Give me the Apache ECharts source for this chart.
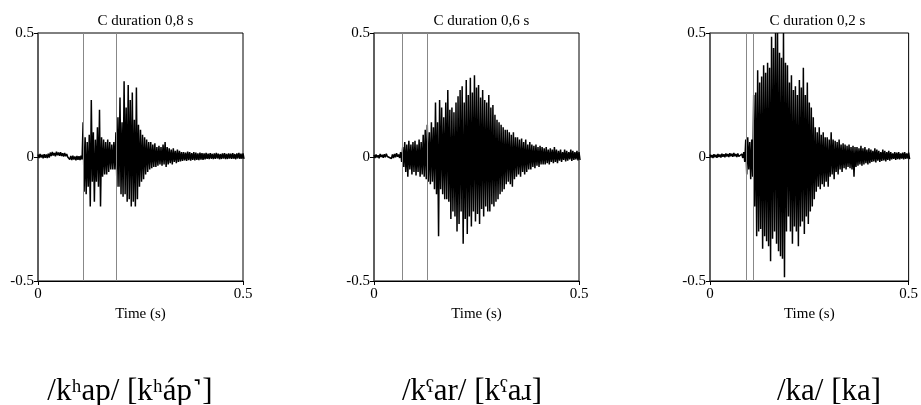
<!DOCTYPE html>
<html>
<head>
<meta charset="utf-8">
<script src="https://cdn.jsdelivr.net/npm/echarts@6/dist/echarts.min.js"></script>
<style>
  html, body { margin: 0; padding: 0; background: #fff; }
  #chart { width: 921px; height: 405px; }
</style>
</head>
<body>
<div id="chart"></div>
<script>
// ---------- data ----------
const sampleStep = 0.005; // seconds between envelope samples
const panelTitles = ['C duration 0,8 s', 'C duration 0,6 s', 'C duration 0,2 s'];
const panelWords = ['/kʰap/ [kʰáp˺]', '/kˤar/ [kˤaɹ]', '/ka/ [ka]'];
const xTicks = [0, 0.5];
const yTicks = [-0.5, 0, 0.5];

// segment boundaries (s)
const bounds1 = [0.11, 0.189];
const bounds2 = [0.0716, 0.126];
const bounds3 = [0.0908, 0.111];

// waveform envelopes: upper (hi) and lower (lo) amplitude per sample
const hi1 = [0.01,0.012,0.009,0.011,0.01,0.013,
  0.018,0.02,0.016,0.021,0.018,0.019,0.015,0.016,0.012,
  0.006,0.004,0.005,0.002,0.004,0.003,0.005,
  0.14,0.08,0.06,0.09,0.23,0.1,0.07,0.12,0.19,0.08,0.07,0.06,0.07,0.06,0.05,0.06,
  0.1,0.16,0.24,0.14,0.305,0.2,0.29,0.23,0.26,0.15,0.28,0.13,0.11,
  0.09,0.08,0.07,0.06,0.06,0.05,0.055,0.04,0.045,0.04,0.05,0.06,0.04,0.035,0.03,0.035,0.025,0.03,0.025,0.02,
  0.02,0.018,0.022,0.02,0.016,0.02,0.018,0.015,0.018,0.016,
  0.015,0.017,0.014,0.016,0.013,0.015,0.017,0.014,0.012,0.015,0.016,0.013,0.015,0.014,0.016,0.012,0.015,0.017,0.014,0.015];
const lo1 = [-0.004,-0.002,-0.005,-0.003,-0.004,-0.002,
  0.004,0.006,0.003,0.007,0.005,0.004,0.002,0.003,0.0,
  -0.01,-0.012,-0.01,-0.013,-0.011,-0.012,-0.01,
  -0.14,-0.15,-0.12,-0.2,-0.1,-0.18,-0.1,-0.12,-0.2,-0.08,-0.07,-0.07,-0.06,-0.05,-0.05,-0.05,
  -0.12,-0.12,-0.15,-0.16,-0.15,-0.18,-0.17,-0.2,-0.18,-0.2,-0.17,-0.12,-0.1,
  -0.09,-0.07,-0.06,-0.05,-0.045,-0.04,-0.04,-0.035,-0.03,-0.035,-0.03,-0.04,-0.03,-0.025,-0.03,-0.02,-0.025,-0.02,-0.018,-0.016,
  -0.014,-0.016,-0.013,-0.015,-0.012,-0.014,-0.012,-0.013,-0.011,-0.012,
  -0.01,-0.008,-0.009,-0.007,-0.009,-0.008,-0.006,-0.009,-0.008,-0.007,-0.009,-0.008,-0.006,-0.008,-0.007,-0.009,-0.006,-0.008,-0.007,-0.008];

const hi2 = [0.008,0.01,0.007,0.012,0.009,0.011,0.013,0.008,0.006,0.01,0.012,0.015,0.01,0.02,
  0.04,0.06,0.05,0.065,0.05,0.06,0.065,0.05,0.07,0.06,0.09,0.11,0.13,0.1,0.14,0.12,
  0.22,0.14,0.23,0.2,0.16,0.22,0.27,0.19,0.2,0.18,0.22,0.245,0.27,0.285,0.22,0.31,0.25,0.32,0.26,0.33,
  0.28,0.29,0.24,0.27,0.23,0.22,0.25,0.2,0.21,0.17,0.15,0.14,0.13,0.12,0.11,0.11,0.1,0.09,0.1,0.08,
  0.08,0.07,0.075,0.06,0.07,0.05,0.06,0.05,0.045,0.05,0.04,0.045,0.04,0.035,0.04,0.03,0.035,0.03,0.04,0.03,
  0.025,0.03,0.02,0.03,0.025,0.02,0.03,0.025,0.02,0.025,0.02];
const lo2 = [-0.004,-0.002,-0.005,0.0,-0.003,-0.001,0.002,-0.002,-0.006,-0.004,-0.001,0.001,-0.004,-0.02,
  -0.04,-0.06,-0.08,-0.05,-0.07,-0.06,-0.075,-0.06,-0.08,-0.07,-0.08,-0.09,-0.1,-0.11,-0.1,-0.13,
  -0.15,-0.32,-0.13,-0.15,-0.17,-0.17,-0.18,-0.25,-0.22,-0.24,-0.3,-0.27,-0.22,-0.35,-0.25,-0.31,-0.24,-0.28,-0.22,-0.26,
  -0.23,-0.27,-0.21,-0.24,-0.2,-0.22,-0.22,-0.19,-0.2,-0.18,-0.17,-0.15,-0.14,-0.13,-0.11,-0.1,-0.11,-0.12,-0.09,-0.08,
  -0.07,-0.08,-0.06,-0.07,-0.06,-0.05,-0.05,-0.04,-0.045,-0.035,-0.04,-0.03,-0.03,-0.03,-0.025,-0.03,-0.02,-0.025,-0.02,-0.025,
  -0.015,-0.02,-0.012,-0.018,-0.015,-0.01,-0.016,-0.012,-0.01,-0.014,-0.012];

const hi3 = [0.01,0.008,0.011,0.009,0.012,0.01,0.013,0.011,0.014,0.012,0.015,0.013,0.016,0.012,0.014,0.01,0.012,
  0.02,0.07,0.08,0.06,0.07,0.25,0.26,0.35,0.3,0.325,0.37,0.34,0.38,0.36,0.485,0.44,0.5,0.5,0.42,0.4,
  0.5,0.38,0.37,0.3,0.33,0.27,0.285,0.25,0.31,0.28,0.36,0.25,0.3,0.22,0.2,0.16,0.12,0.1,0.12,0.09,
  0.1,0.08,0.08,0.07,0.1,0.07,0.065,0.06,0.07,0.05,0.055,0.05,0.045,0.05,0.04,0.045,0.04,
  0.04,0.035,0.045,0.035,0.04,0.03,0.035,
  0.03,0.025,0.035,0.03,0.025,0.02,0.03,0.025,0.02,0.025,
  0.02,0.015,0.02,0.018,0.02,0.015,0.018,0.02,0.015,0.018];
const lo3 = [-0.002,-0.004,-0.001,-0.003,0.0,-0.002,0.001,-0.001,0.002,0.0,0.003,0.001,0.003,0.0,0.002,-0.002,-0.004,
  -0.02,-0.07,-0.05,-0.09,-0.08,-0.2,-0.32,-0.3,-0.29,-0.37,-0.32,-0.34,-0.36,-0.42,-0.33,-0.3,-0.35,-0.38,-0.4,-0.41,
  -0.485,-0.3,-0.24,-0.3,-0.35,-0.28,-0.3,-0.36,-0.28,-0.26,-0.31,-0.24,-0.27,-0.22,-0.2,-0.17,-0.14,-0.12,-0.13,-0.11,
  -0.12,-0.1,-0.12,-0.08,-0.07,-0.09,-0.06,-0.07,-0.05,-0.06,-0.045,-0.05,-0.04,-0.045,-0.05,-0.08,-0.04,
  -0.035,-0.03,-0.035,-0.03,-0.025,-0.03,-0.025,
  -0.02,-0.018,-0.022,-0.015,-0.02,-0.016,-0.014,-0.018,-0.012,-0.015,
  -0.01,-0.008,-0.012,-0.009,-0.01,-0.007,-0.01,-0.008,-0.006,-0.009];

// ---------- build ----------
function buildWave(hi, lo) {
  const d = [];
  for (let i = 0; i < hi.length; i++) {
    d.push([i * sampleStep, hi[i]]);
    d.push([i * sampleStep + sampleStep / 2, lo[i]]);
  }
  return d;
}
const waves = [buildWave(hi1, lo1), buildWave(hi2, lo2), buildWave(hi3, lo3)];
const bounds = [bounds1, bounds2, bounds3];

const FONT = 'Liberation Serif';
const gridLefts = [38, 374, 710];
const gridW = 205, gridTop = 33, gridH = 248;

const chart = echarts.init(document.getElementById('chart'), null, { renderer: 'canvas' });

const grids = [], xAxes = [], yAxes = [], series = [], titles = [];
const bottomCenters = [125, 467, 824];
for (let p = 0; p < 3; p++) {
  grids.push({ left: gridLefts[p], top: gridTop, width: gridW, height: gridH,
    show: true, borderColor: '#000', borderWidth: 1, backgroundColor: 'transparent' });
  xAxes.push({
    gridIndex: p, type: 'value', min: xTicks[0], max: xTicks[xTicks.length - 1], interval: 0.5,
    name: 'Time (s)', nameLocation: 'middle', nameGap: 26,
    nameTextStyle: { fontFamily: FONT, fontSize: 15, color: '#000' },
    axisLine: { show: true, onZero: false, lineStyle: { color: '#000', width: 1 } },
    axisTick: { show: true, length: 4, lineStyle: { color: '#000' } },
    axisLabel: { fontFamily: FONT, fontSize: 15, color: '#000', margin: 6, showMinLabel: true, showMaxLabel: true },
    splitLine: { show: false }
  });
  yAxes.push({
    gridIndex: p, type: 'value', min: yTicks[0], max: yTicks[yTicks.length - 1], interval: 0.5,
    axisLine: { show: true, onZero: false, lineStyle: { color: '#555', width: 1.5 } },
    axisTick: { show: true, length: 4, lineStyle: { color: '#000' } },
    axisLabel: { fontFamily: FONT, fontSize: 15, color: '#000', margin: 4, showMinLabel: true, showMaxLabel: true },
    splitLine: { show: false }
  });
  series.push({
    type: 'line', xAxisIndex: p, yAxisIndex: p, data: waves[p],
    showSymbol: false, symbol: 'none', animation: false,
    lineStyle: { color: '#000', width: 1.5 },
    markLine: {
      silent: true, symbol: 'none', animation: false,
      label: { show: false },
      lineStyle: { color: '#888', width: 1, type: 'solid' },
      data: bounds[p].map(v => ({ xAxis: v }))
    }
  });
  titles.push({
    text: panelTitles[p], left: gridLefts[p] + gridW / 2, top: 9, textAlign: 'center',
    textStyle: { fontFamily: FONT, fontSize: 15, fontWeight: 'normal', color: '#000' }
  });
  titles.push({
    text: panelWords[p], left: bottomCenters[p], top: 371, textAlign: 'center',
    textStyle: { fontFamily: FONT, fontSize: 31, fontWeight: 'normal', color: '#000' }
  });
}

chart.setOption({
  animation: false,
  backgroundColor: '#fff',
  title: titles,
  grid: grids,
  xAxis: xAxes,
  yAxis: yAxes,
  series: series
});
</script>
</body>
</html>
